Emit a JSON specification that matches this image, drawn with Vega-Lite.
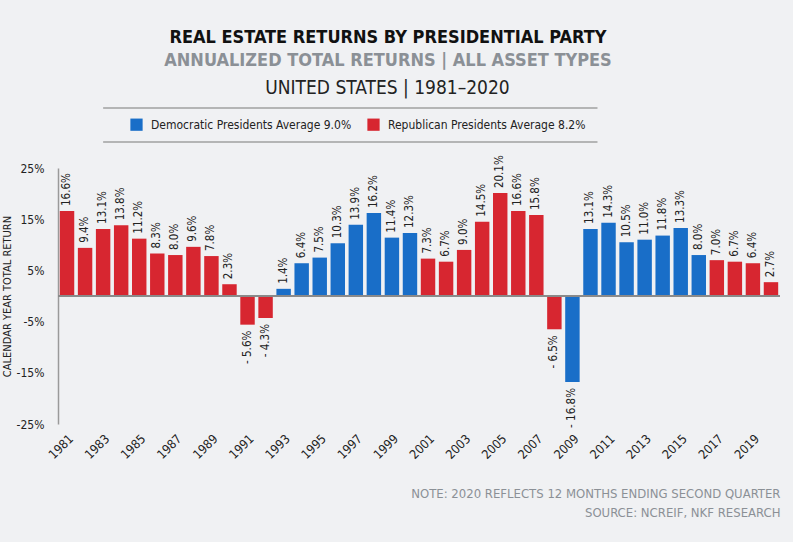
{
  "$schema": "https://vega.github.io/schema/vega-lite/v6.json",
  "autosize": "none",
  "width": 722,
  "height": 256,
  "padding": {"left": 58, "top": 168, "right": 13, "bottom": 118},
  "background": "#f0f1f3",
  "title": {
    "text": "REAL ESTATE RETURNS BY PRESIDENTIAL PARTY",
    "subtitle": "ANNUALIZED TOTAL RETURNS | ALL ASSET TYPES",
    "anchor": "middle",
    "frame": "group",
    "dx": -31,
    "offset": 8,
    "fontSize": 18,
    "fontWeight": "bold",
    "color": "#111111",
    "subtitleFontSize": 18,
    "subtitleFontWeight": "bold",
    "subtitleColor": "#8b9096",
    "subtitlePadding": 5
  },
  "data": {
    "values": [
      {"year": 1981, "ret": 16.6, "party": "Republican"},
      {"year": 1982, "ret": 9.4, "party": "Republican"},
      {"year": 1983, "ret": 13.1, "party": "Republican"},
      {"year": 1984, "ret": 13.8, "party": "Republican"},
      {"year": 1985, "ret": 11.2, "party": "Republican"},
      {"year": 1986, "ret": 8.3, "party": "Republican"},
      {"year": 1987, "ret": 8.0, "party": "Republican"},
      {"year": 1988, "ret": 9.6, "party": "Republican"},
      {"year": 1989, "ret": 7.8, "party": "Republican"},
      {"year": 1990, "ret": 2.3, "party": "Republican"},
      {"year": 1991, "ret": -5.6, "party": "Republican"},
      {"year": 1992, "ret": -4.3, "party": "Republican"},
      {"year": 1993, "ret": 1.4, "party": "Democratic"},
      {"year": 1994, "ret": 6.4, "party": "Democratic"},
      {"year": 1995, "ret": 7.5, "party": "Democratic"},
      {"year": 1996, "ret": 10.3, "party": "Democratic"},
      {"year": 1997, "ret": 13.9, "party": "Democratic"},
      {"year": 1998, "ret": 16.2, "party": "Democratic"},
      {"year": 1999, "ret": 11.4, "party": "Democratic"},
      {"year": 2000, "ret": 12.3, "party": "Democratic"},
      {"year": 2001, "ret": 7.3, "party": "Republican"},
      {"year": 2002, "ret": 6.7, "party": "Republican"},
      {"year": 2003, "ret": 9.0, "party": "Republican"},
      {"year": 2004, "ret": 14.5, "party": "Republican"},
      {"year": 2005, "ret": 20.1, "party": "Republican"},
      {"year": 2006, "ret": 16.6, "party": "Republican"},
      {"year": 2007, "ret": 15.8, "party": "Republican"},
      {"year": 2008, "ret": -6.5, "party": "Republican"},
      {"year": 2009, "ret": -16.8, "party": "Democratic"},
      {"year": 2010, "ret": 13.1, "party": "Democratic"},
      {"year": 2011, "ret": 14.3, "party": "Democratic"},
      {"year": 2012, "ret": 10.5, "party": "Democratic"},
      {"year": 2013, "ret": 11.0, "party": "Democratic"},
      {"year": 2014, "ret": 11.8, "party": "Democratic"},
      {"year": 2015, "ret": 13.3, "party": "Democratic"},
      {"year": 2016, "ret": 8.0, "party": "Democratic"},
      {"year": 2017, "ret": 7.0, "party": "Republican"},
      {"year": 2018, "ret": 6.7, "party": "Republican"},
      {"year": 2019, "ret": 6.4, "party": "Republican"},
      {"year": 2020, "ret": 2.7, "party": "Republican"}
    ]
  },
  "layer": [
    {
      "mark": {"type": "bar"},
      "encoding": {
        "x": {
          "field": "year",
          "type": "ordinal",
          "scale": {"paddingInner": 0.2, "paddingOuter": 0.1},
          "axis": {
            "orient": "bottom",
            "values": [1981, 1983, 1985, 1987, 1989, 1991, 1993, 1995, 1997, 1999, 2001, 2003, 2005, 2007, 2009, 2011, 2013, 2015, 2017, 2019],
            "labelAngle": -45,
            "labelFontSize": 12.5,
            "labelColor": "#222222",
            "labelPadding": 8,
            "domain": false,
            "ticks": false,
            "title": ["NOTE: 2020 REFLECTS 12 MONTHS ENDING SECOND QUARTER", "SOURCE: NCREIF, NKF RESEARCH"],
            "titleX": 722,
            "titleY": 73,
            "titleAlign": "right",
            "titleAnchor": "end",
            "titleBaseline": "alphabetic",
            "titleLineHeight": 19,
            "titleFontSize": 13,
            "titleFontWeight": "normal",
            "titleColor": "#8b9096"
          }
        },
        "y": {
          "field": "ret",
          "type": "quantitative",
          "scale": {"domain": [-25, 25], "nice": false},
          "axis": {
            "values": [-25, -15, -5, 5, 15, 25],
            "labelExpr": "datum.value + '%'",
            "labelFontSize": 12,
            "labelColor": "#222222",
            "labelPadding": 14,
            "ticks": false,
            "grid": false,
            "domainColor": "#9a9a9a",
            "domainWidth": 1.5,
            "title": "CALENDAR YEAR TOTAL RETURN",
            "titleFontSize": 11,
            "titleFontWeight": "normal",
            "titleColor": "#222222",
            "titlePadding": 4
          }
        },
        "color": {
          "field": "party",
          "type": "nominal",
          "scale": {"domain": ["Democratic", "Republican"], "range": ["#196ec8", "#d72630"]},
          "legend": {
            "orient": "none",
            "legendX": 72,
            "legendY": -50,
            "direction": "horizontal",
            "title": null,
            "symbolType": "square",
            "symbolSize": 150,
            "symbolStrokeWidth": 0,
            "symbolOpacity": 1,
            "labelFontSize": 12,
            "labelColor": "#222222",
            "labelLimit": 400,
            "labelOffset": 8,
            "columnPadding": 15,
            "labelExpr": "datum.label == 'Democratic' ? 'Democratic Presidents Average 9.0%' : 'Republican Presidents Average 8.2%'"
          }
        }
      }
    },
    {
      "mark": {
        "type": "text",
        "angle": 270,
        "baseline": "middle",
        "fontSize": 11.5,
        "color": "#222222",
        "align": {"expr": "datum.ret < 0 ? 'right' : 'left'"},
        "dx": {"expr": "datum.ret < 0 ? -6 : 5"},
        "text": {"expr": "(datum.ret < 0 ? '- ' + format(-datum.ret, '.1f') : format(datum.ret, '.1f')) + '%'"}
      },
      "encoding": {
        "x": {
          "field": "year",
          "type": "ordinal",
          "axis": {
            "orient": "top",
            "labels": false,
            "ticks": false,
            "domain": false,
            "grid": false,
            "title": "UNITED STATES | 1981–2020",
            "titleX": 329,
            "titleY": -75,
            "titleAlign": "center",
            "titleAnchor": null,
            "titleBaseline": "alphabetic",
            "titleFontSize": 19,
            "titleFontWeight": "normal",
            "titleColor": "#222222"
          }
        },
        "y": {"field": "ret", "type": "quantitative"}
      }
    },
    {
      "mark": {"type": "rule", "color": "#8a8a8a", "strokeWidth": 1.5},
      "encoding": {"y": {"datum": 0, "type": "quantitative"}}
    },
    {
      "data": {"values": [{}]},
      "mark": {"type": "rule", "color": "#a0a0a0", "strokeWidth": 1.5, "x2Offset": 7},
      "encoding": {
        "x": {"datum": 1983, "type": "ordinal", "axis": null},
        "x2": {"datum": 2010},
        "y": {"datum": 36.7, "type": "quantitative"}
      }
    },
    {
      "data": {"values": [{}]},
      "mark": {"type": "rule", "color": "#a0a0a0", "strokeWidth": 1.5, "x2Offset": 7},
      "encoding": {
        "x": {"datum": 1983, "type": "ordinal", "axis": null},
        "x2": {"datum": 2010},
        "y": {"datum": 30.1, "type": "quantitative"}
      }
    }
  ],
  "config": {
    "font": "DejaVu Sans Condensed",
    "view": {"stroke": null}
  }
}
